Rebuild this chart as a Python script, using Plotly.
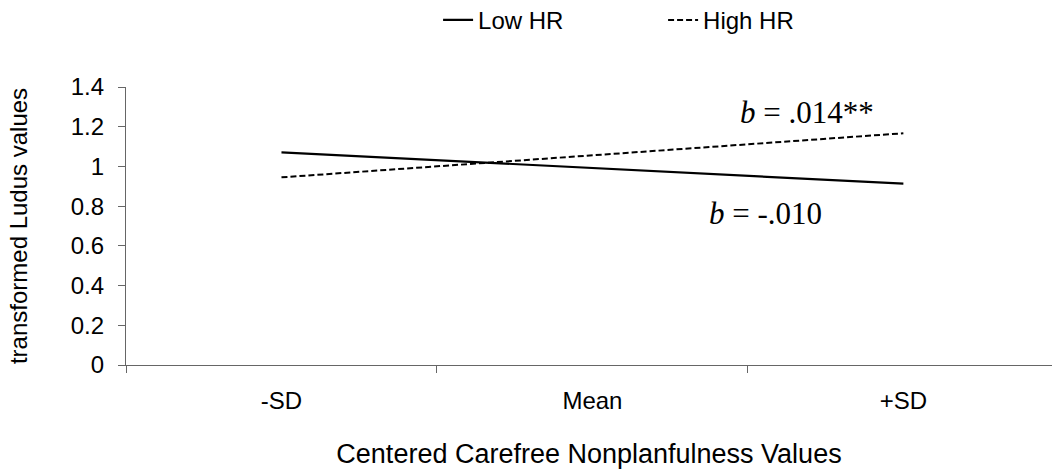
import plotly.graph_objects as go

categories = ["-SD", "Mean", "+SD"]
low_hr = [1.071, 0.992, 0.913]
high_hr = [0.945, 1.056, 1.167]
y_ticks = [0, 0.2, 0.4, 0.6, 0.8, 1, 1.2, 1.4]
y_ticklabels = ["0", "0.2", "0.4", "0.6", "0.8", "1", "1.2", "1.4"]

fig = go.Figure()
fig.add_trace(go.Scatter(x=categories, y=low_hr, mode="lines", name="Low HR",
                         line=dict(color="black", width=2.2)))
fig.add_trace(go.Scatter(x=categories, y=high_hr, mode="lines", name="High HR",
                         line=dict(color="black", width=2, dash="6px,3px")))

serif = dict(family="Liberation Serif, Times New Roman, serif", size=31, color="black")
fig.add_annotation(x=1.69, y=1.274, text="<i>b</i> = .014**", showarrow=False, font=serif)
fig.add_annotation(x=1.555, y=0.765, text="<i>b</i> = -.010", showarrow=False, font=serif)

fig.update_layout(
    width=1052, height=473,
    margin=dict(l=126, r=0, t=87, b=108, autoexpand=False),
    paper_bgcolor="white", plot_bgcolor="white",
    font=dict(family="Liberation Sans, Arial, sans-serif", size=24, color="black"),
    showlegend=True,
    legend=dict(orientation="h", x=0.58, xanchor="center",
                yref="container", y=0.957, yanchor="middle",
                font=dict(size=24), entrywidth=180, entrywidthmode="pixels", tracegroupgap=0),
    xaxis=dict(type="category", range=[-0.5, 2.478], tickson="boundaries",
               showline=True, linecolor="#666", linewidth=1.3,
               ticks="outside", ticklen=7, tickcolor="#666",
               showgrid=False, zeroline=False,
               tickfont=dict(size=24), ticklabelstandoff=14,
               title=dict(text="Centered Carefree Nonplanfulness Values", font=dict(size=27), standoff=31)),
    yaxis=dict(range=[0, 1.4], tickvals=y_ticks, ticktext=y_ticklabels,
               showline=True, linecolor="#666", linewidth=1.3,
               ticks="outside", ticklen=7, tickcolor="#666",
               showgrid=False, zeroline=False,
               tickfont=dict(size=24), ticklabelstandoff=9,
               title=dict(text="transformed Ludus values", font=dict(size=24), standoff=36)),
)

fig.write_html("out.html")
